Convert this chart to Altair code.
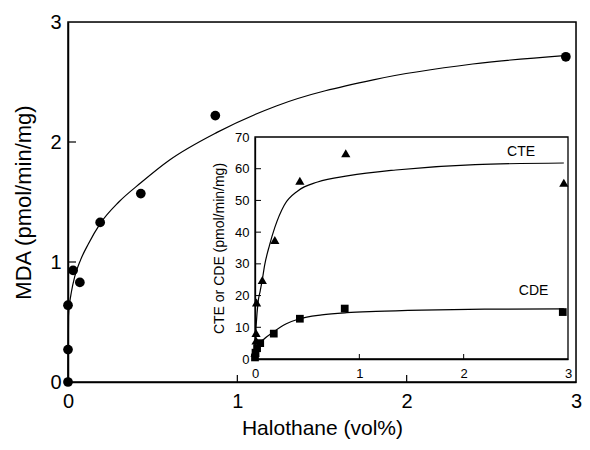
import altair as alt
import pandas as pd

# ---------------- data ----------------
# main panel: MDA vs halothane
mda_x = [0.0, 0.0, 0.0, 0.03, 0.07, 0.19, 0.43, 0.87, 2.94]
mda_y = [0.0, 0.27, 0.64, 0.93, 0.83, 1.33, 1.57, 2.22, 2.71]
mda_fit_x = [0.0, 0.003, 0.01, 0.02, 0.04, 0.075, 0.12, 0.19, 0.3, 0.43, 0.6, 0.88, 1.23, 1.81, 2.39, 2.93]
mda_fit_y = [0.0, 0.55, 0.66, 0.75, 0.88, 1.02, 1.15, 1.32, 1.5, 1.66, 1.85, 2.08, 2.3, 2.52, 2.65, 2.72]

# inset: CTE (triangles) and CDE (squares)
cte_x = [0.0, 0.01, 0.01, 0.015, 0.07, 0.19, 0.43, 0.87, 2.96]
cte_y = [2.0, 5.8, 8.2, 17.8, 24.9, 37.5, 56.2, 64.9, 55.6]
cte_fit_x = [0.0, 0.004, 0.012, 0.03, 0.05, 0.07, 0.092, 0.14, 0.19, 0.28, 0.41, 0.6, 0.9, 1.35, 2.11, 2.96]
cte_fit_y = [0.0, 6.0, 11.0, 18.0, 21.5, 25.0, 29.5, 36.0, 41.5, 48.5, 53.0, 55.8, 57.8, 59.6, 61.3, 61.8]

cde_x = [0.0, 0.005, 0.02, 0.05, 0.18, 0.43, 0.86, 2.95]
cde_y = [0.5, 2.0, 3.4, 5.0, 8.0, 12.7, 15.9, 14.8]
cde_fit_x = [0.0, 0.01, 0.03, 0.076, 0.18, 0.3, 0.42, 0.64, 0.88, 1.16, 1.6, 2.2, 2.96]
cde_fit_y = [0.0, 2.5, 4.3, 6.0, 8.6, 11.1, 12.6, 13.9, 14.6, 15.0, 15.4, 15.7, 15.8]

main_ticks = [0, 1, 2, 3]
inset_x_ticks = [0, 1, 2, 3]
inset_y_ticks = [0, 10, 20, 30, 40, 50, 60, 70]

# ---------------- layout constants (pixels inside the main plot area) ----------------
W, H = 508, 360
INSET_X0, INSET_X1 = 187, 500
INSET_Y0, INSET_Y1 = 337, 115
FONT = "Liberation Sans"

main_df = pd.DataFrame({"x": mda_x, "y": mda_y})
main_fit = pd.DataFrame({"x": mda_fit_x, "y": mda_fit_y})
cte_df = pd.DataFrame({"x": cte_x, "y": cte_y})
cte_fit = pd.DataFrame({"x": cte_fit_x, "y": cte_fit_y})
cde_df = pd.DataFrame({"x": cde_x, "y": cde_y})
cde_fit = pd.DataFrame({"x": cde_fit_x, "y": cde_fit_y})
one = pd.DataFrame({"a": [0]})

mx = alt.Scale(domain=[0, 3], range=[0, W], nice=False, zero=False)
my = alt.Scale(domain=[0, 3], range=[H, 0], nice=False, zero=False)
ix = alt.Scale(domain=[0, 3], range=[INSET_X0, INSET_X1], nice=False, zero=False)
iy = alt.Scale(domain=[0, 70], range=[INSET_Y0, INSET_Y1], nice=False, zero=False)

common = dict(format="d", ticks=False, tickSize=0, labelFlush=False, labelOverlap=False,
              titleFontWeight="normal", labelFont=FONT, titleFont=FONT,
              labelColor="black", titleColor="black", domainColor="black")
main_x_axis = alt.Axis(values=main_ticks, title="Halothane (vol%)", orient="bottom",
                       labelPadding=9, labelFontSize=20, titleFontSize=21, titlePadding=6,
                       domainWidth=1.5, **common)
main_y_axis = alt.Axis(values=main_ticks, title="MDA (pmol/min/mg)", orient="left",
                       labelPadding=7, labelFontSize=20, titleFontSize=22, titlePadding=14,
                       domainWidth=1.5, **common)
inset_x_axis = alt.Axis(values=inset_x_ticks, title=None, orient="bottom",
                        offset=-(H - INSET_Y0), labelPadding=8, labelFontSize=13,
                        domainWidth=1.3, **common)
inset_y_axis = alt.Axis(values=inset_y_ticks, title="CTE or CDE (pmol/min/mg)", orient="left",
                        offset=-INSET_X0, labelPadding=6, labelFontSize=13, titleFontSize=14,
                        titlePadding=8, domainWidth=1.3, **common)

# ---------------- main panel ----------------
m_frame = alt.Chart(one).mark_rect(fill=None, stroke="black", strokeWidth=1.5).encode(
    x=alt.X("x0:Q", scale=mx, axis=None), x2=alt.datum(3),
    y=alt.Y("x0:Q", scale=my, axis=None), y2=alt.datum(3),
).transform_calculate(x0="0")
m_curve = alt.Chart(main_fit).mark_line(color="black", strokeWidth=1.2, interpolate="monotone").encode(
    x=alt.X("x:Q", scale=mx, axis=main_x_axis),
    y=alt.Y("y:Q", scale=my, axis=main_y_axis),
)
m_pts = alt.Chart(main_df).mark_point(shape="circle", filled=True, color="black", size=95, opacity=1).encode(
    x=alt.X("x:Q", scale=mx, axis=None),
    y=alt.Y("y:Q", scale=my, axis=None),
)
m_xt = alt.Chart(pd.DataFrame({"v": main_ticks[1:3]})).mark_rule(color="black", strokeWidth=1.2).encode(
    x=alt.X("v:Q", scale=mx, axis=None), y=alt.value(H), y2=alt.value(H - 7))
m_yt = alt.Chart(pd.DataFrame({"v": main_ticks[1:3]})).mark_rule(color="black", strokeWidth=1.2).encode(
    y=alt.Y("v:Q", scale=my, axis=None), x=alt.value(0), x2=alt.value(8))

# ---------------- inset ----------------
i_frame = alt.Chart(one).mark_rect(fill=None, stroke="black", strokeWidth=1.3).encode(
    x=alt.X("x0:Q", scale=ix, axis=None), x2=alt.datum(3),
    y=alt.Y("x0:Q", scale=iy, axis=None), y2=alt.datum(70),
).transform_calculate(x0="0")
i_cte_line = alt.Chart(cte_fit).mark_line(color="black", strokeWidth=1.2, interpolate="monotone").encode(
    x=alt.X("x:Q", scale=ix, axis=inset_x_axis),
    y=alt.Y("y:Q", scale=iy, axis=inset_y_axis),
)
i_cde_line = alt.Chart(cde_fit).mark_line(color="black", strokeWidth=1.2, interpolate="monotone").encode(
    x=alt.X("x:Q", scale=ix, axis=None),
    y=alt.Y("y:Q", scale=iy, axis=None),
)
i_cte_pts = alt.Chart(cte_df).mark_point(shape="triangle-up", filled=True, color="black", size=85, opacity=1).encode(
    x=alt.X("x:Q", scale=ix, axis=None),
    y=alt.Y("y:Q", scale=iy, axis=None),
)
i_cde_pts = alt.Chart(cde_df).mark_point(shape="square", filled=True, color="black", size=60, opacity=1).encode(
    x=alt.X("x:Q", scale=ix, axis=None),
    y=alt.Y("y:Q", scale=iy, axis=None),
)
i_xt = alt.Chart(pd.DataFrame({"v": inset_x_ticks[1:3]})).mark_rule(color="black", strokeWidth=1).encode(
    x=alt.X("v:Q", scale=ix, axis=None), y=alt.value(INSET_Y0), y2=alt.value(INSET_Y0 - 5))
i_yt = alt.Chart(pd.DataFrame({"v": inset_y_ticks[1:7]})).mark_rule(color="black", strokeWidth=1).encode(
    y=alt.Y("v:Q", scale=iy, axis=None), x=alt.value(INSET_X0), x2=alt.value(INSET_X0 + 6))
i_cte_lab = alt.Chart(one).mark_text(text="CTE", fontSize=14, font=FONT, color="black").encode(
    x=alt.X("px:Q", scale=ix, axis=None), y=alt.Y("py:Q", scale=iy, axis=None),
).transform_calculate(px="2.55", py="65.3")
i_cde_lab = alt.Chart(one).mark_text(text="CDE", fontSize=14, font=FONT, color="black").encode(
    x=alt.X("px:Q", scale=ix, axis=None), y=alt.Y("py:Q", scale=iy, axis=None),
).transform_calculate(px="2.67", py="21.5")

chart = alt.layer(
    m_frame, m_curve, m_pts, m_xt, m_yt,
    i_frame, i_cte_line, i_cde_line, i_cte_pts, i_cde_pts, i_xt, i_yt, i_cte_lab, i_cde_lab,
).resolve_scale(x="independent", y="independent").properties(
    width=W, height=H,
    autosize=alt.AutoSizeParams(type="none"),
    padding={"left": 60, "top": 14, "right": 6, "bottom": 60},
).configure_view(stroke=None).configure_axis(
    grid=False,
).configure(background="white")

chart.save("out.html", embed_options={"renderer": "svg", "actions": False})
